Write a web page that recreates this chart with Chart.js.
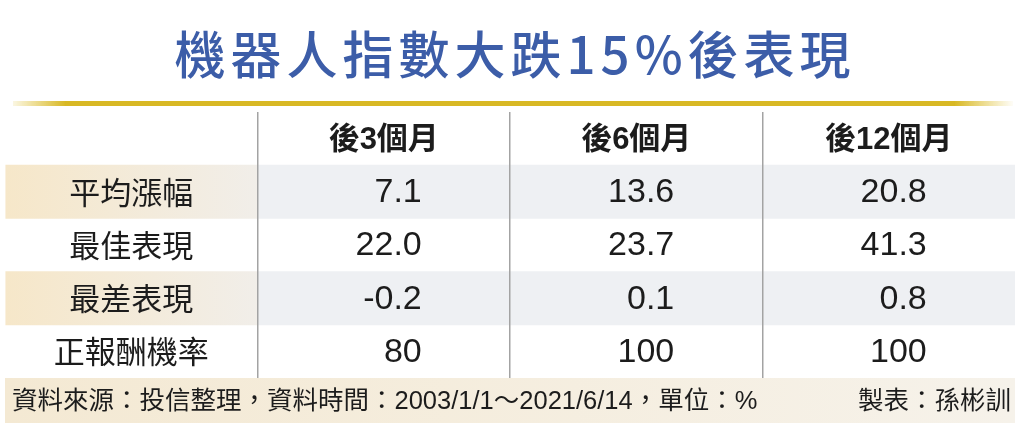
<!DOCTYPE html>
<html>
<head>
<meta charset="utf-8">
<script src="https://cdn.jsdelivr.net/npm/chart.js@4"></script>
<style>
    html, body { margin: 0; padding: 0; background: #ffffff; }
    #wrap { width: 1024px; height: 435px; position: relative; }
</style>
</head>
<body>
<div id="wrap"><canvas id="tableChart"></canvas></div>
<script>
// table content
const titleText = '機器人指數大跌15%後表現';
const columns = ['後3個月', '後6個月', '後12個月'];
const rowLabels = ['平均漲幅', '最佳表現', '最差表現', '正報酬機率'];
const avgGain = [7.1, 13.6, 20.8];
const bestGain = [22.0, 23.7, 41.3];
const worstGain = [-0.2, 0.1, 0.8];
const positiveRate = [80, 100, 100];
const rowDecimals = [1, 1, 1, 0];
const shadedRows = [true, false, true, false];
const sourceText = '資料來源：投信整理，資料時間：2003/1/1～2021/6/14，單位：%';
const makerText = '製表：孫彬訓';

const rowValues = [avgGain, bestGain, worstGain, positiveRate];
const yLabels = ['header', ...rowLabels];

const cjk = '"Noto Sans CJK TC", "Noto Sans", sans-serif';
const mixed = '"Liberation Sans", "Noto Sans CJK TC", sans-serif';

// shaded bands: label cell spans x 0..1, value cells span 1..4
const labelBand = yLabels.map((_, i) => (i > 0 && shadedRows[i - 1]) ? [0, 1] : null);
const valueBand = yLabels.map((_, i) => (i > 0 && shadedRows[i - 1]) ? [1, columns.length + 1] : null);

function labelGradient(context) {
    const chart = context.chart;
    if (!chart.chartArea) return '#f4ead6';
    const x = chart.scales.x;
    const g = chart.ctx.createLinearGradient(x.getPixelForValue(0), 0, x.getPixelForValue(1), 0);
    g.addColorStop(0, '#f6e7c9');
    g.addColorStop(1, '#f1eee9');
    return g;
}

const tablePlugin = {
    id: 'tableText',
    beforeDraw(chart) {
        const ctx = chart.ctx;
        const area = chart.chartArea;
        ctx.save();
        // title
        ctx.fillStyle = '#3c5da8';
        ctx.font = '500 51px ' + cjk;
        ctx.textAlign = 'center';
        ctx.textBaseline = 'middle';
        ctx.letterSpacing = '5px';
        ctx.fillText(titleText, chart.width / 2 + 3, 55);
        ctx.letterSpacing = '0px';

        // gold rule under the title
        const y = area.top - 8;
        const g = ctx.createLinearGradient(area.left, 0, area.right, 0);
        g.addColorStop(0, 'rgba(222,190,40,0)');
        g.addColorStop(0.06, 'rgba(216,184,36,1)');
        g.addColorStop(0.94, 'rgba(216,184,36,1)');
        g.addColorStop(1, 'rgba(222,190,40,0)');
        ctx.fillStyle = g;
        ctx.fillRect(area.left + 8, y - 3, area.right - area.left - 10, 5);
        ctx.restore();
    },
    afterDraw(chart) {
        const ctx = chart.ctx;
        const x = chart.scales.x;
        const yS = chart.scales.y;
        const area = chart.chartArea;
        ctx.save();
        ctx.textBaseline = 'middle';
        ctx.fillStyle = '#1c1c1c';

        // column headers
        ctx.textAlign = 'center';
        ctx.font = 'bold 31px ' + mixed;
        columns.forEach((c, j) => {
            ctx.fillText(c, x.getPixelForValue(j + 1.5), yS.getPixelForValue(0) + 2);
        });

        // row labels
        ctx.font = '31px ' + cjk;
        rowLabels.forEach((r, i) => {
            ctx.fillText(r, x.getPixelForValue(0.5), yS.getPixelForValue(i + 1));
        });

        // values, right aligned a bit past the column centre
        ctx.textAlign = 'right';
        ctx.font = '34px ' + mixed;
        rowValues.forEach((vals, i) => {
            vals.forEach((v, j) => {
                const px = x.getPixelForValue(j + 1.5) + 38;
                ctx.fillText(v.toFixed(rowDecimals[i]), px, yS.getPixelForValue(i + 1) + 1);
            });
        });

        // footer band
        const fTop = area.bottom;
        const fH = 45;
        const fg = ctx.createLinearGradient(area.left, 0, area.right, 0);
        fg.addColorStop(0, '#f4e9d3');
        fg.addColorStop(1, '#f6f2ea');
        ctx.fillStyle = fg;
        ctx.fillRect(area.left, fTop, area.right - area.left, fH);
        ctx.fillStyle = '#1c1c1c';
        ctx.font = '25.5px ' + mixed;
        ctx.textAlign = 'left';
        ctx.fillText(sourceText, area.left + 7, fTop + fH / 2 + 1);
        ctx.textAlign = 'right';
        ctx.fillText(makerText, area.right - 4, fTop + fH / 2 + 1);
        ctx.restore();
    }
};

new Chart(document.getElementById('tableChart'), {
    type: 'bar',
    data: {
        labels: yLabels,
        datasets: [
            {
                label: 'labelBand',
                data: labelBand,
                backgroundColor: labelGradient,
                grouped: false,
                barPercentage: 1,
                categoryPercentage: 1,
                borderWidth: 0
            },
            {
                label: 'valueBand',
                data: valueBand,
                backgroundColor: '#eef0f3',
                grouped: false,
                barPercentage: 1,
                categoryPercentage: 1,
                borderWidth: 0
            }
        ]
    },
    options: {
        indexAxis: 'y',
        responsive: true,
        maintainAspectRatio: false,
        animation: false,
        layout: { padding: { top: 112, left: 5, right: 9, bottom: 57 } },
        plugins: {
            legend: { display: false },
            tooltip: { enabled: false },
            title: { display: false }
        },
        scales: {
            x: {
                type: 'linear',
                min: 0,
                max: columns.length + 1,
                position: 'bottom',
                ticks: { display: false, stepSize: 1 },
                border: { display: false },
                grid: {
                    z: 1,
                    drawTicks: false,
                    lineWidth: 1.5,
                    color: c => (c.tick && c.tick.value > 0 && c.tick.value < columns.length + 1) ? '#a3a3a3' : 'rgba(0,0,0,0)'
                }
            },
            y: {
                type: 'category',
                offset: true,
                display: false,
                grid: { display: false }
            }
        }
    },
    plugins: [tablePlugin]
});
</script>
</body>
</html>
